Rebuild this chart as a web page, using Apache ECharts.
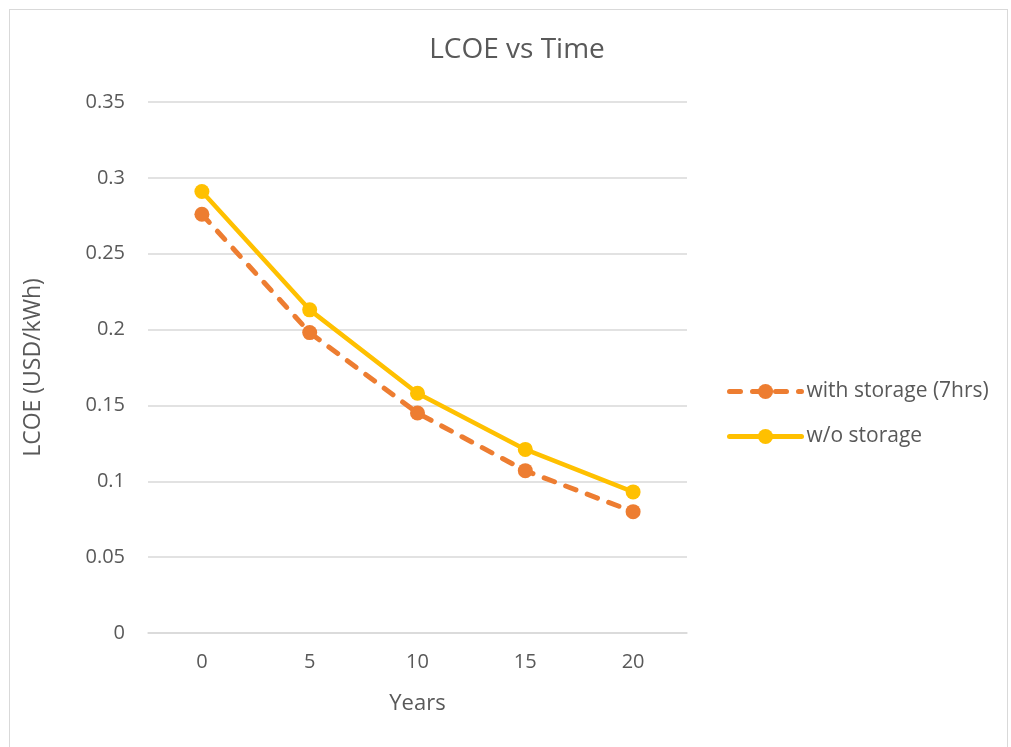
<!DOCTYPE html>
<html>
<head>
<meta charset="utf-8">
<script src="https://cdn.jsdelivr.net/npm/echarts@6/dist/echarts.min.js"></script>
<style>
  html, body { margin: 0; padding: 0; background: #fff; }
  #frame { position: absolute; left: 9px; top: 9px; width: 999px; height: 745px; border: 1px solid #d9d9d9; box-sizing: border-box; }
  #chart { position: absolute; left: 0; top: 0; width: 1011px; height: 747px; }
</style>
</head>
<body>
<div id="frame"></div>
<div id="chart"></div>
<script>
// LCOE by year, two scenarios
const years = ['0', '5', '10', '15', '20'];
const withStorage = [0.276, 0.198, 0.145, 0.107, 0.080];
const withoutStorage = [0.291, 0.213, 0.158, 0.121, 0.093];
const yTicks = [0, 0.05, 0.1, 0.15, 0.2, 0.25, 0.3, 0.35];

const FONT = '"Open Sans", "Noto Sans", sans-serif';
const GREY = '#595959';

const chart = echarts.init(document.getElementById('chart'), null, { renderer: 'canvas' });
chart.setOption({
  animation: false,
  backgroundColor: 'transparent',
  textStyle: { fontFamily: FONT, color: GREY },
  title: {
    text: 'LCOE vs Time',
    left: 512, top: 31,
    textAlign: 'center',
    textStyle: { fontFamily: FONT, fontSize: 28, fontWeight: 'normal', color: GREY }
  },
  legend: {
    orient: 'vertical',
    left: 722, top: 376,
    itemWidth: 72, itemHeight: 19,
    itemGap: 24,
    lineStyle: { width: 5 },
    textStyle: { fontFamily: FONT, fontSize: 21, color: GREY },
    data: ['with storage (7hrs)', 'w/o storage']
  },
  grid: { left: 148, right: 324, top: 102, bottom: 114, containLabel: false },
  xAxis: {
    type: 'category',
    data: years,
    boundaryGap: true,
    name: 'Years',
    nameLocation: 'middle',
    nameGap: 60,
    nameTextStyle: { fontFamily: FONT, fontSize: 22, color: GREY },
    axisLine: { lineStyle: { color: '#d9d9d9', width: 1.5 } },
    axisTick: { show: false },
    axisLabel: { fontFamily: FONT, fontSize: 20, color: GREY, margin: 19 }
  },
  yAxis: {
    type: 'value',
    min: yTicks[0], max: yTicks[yTicks.length - 1], interval: 0.05,
    name: 'LCOE (USD/kWh)',
    nameLocation: 'middle',
    nameGap: 103,
    nameRotate: 90,
    nameTextStyle: { fontFamily: FONT, fontSize: 23, color: GREY },
    axisLine: { show: false },
    axisTick: { show: false },
    splitLine: { lineStyle: { color: '#d9d9d9', width: 1.5 } },
    axisLabel: {
      fontFamily: FONT, fontSize: 20, color: GREY, margin: 23,
      formatter: v => String(Number(v.toFixed(2)))
    }
  },
  series: [
    {
      name: 'with storage (7hrs)',
      type: 'line',
      data: withStorage,
      symbol: 'circle', symbolSize: 15,
      itemStyle: { color: '#ED7D31' },
      lineStyle: { color: '#ED7D31', width: 5, type: [11, 12], cap: 'round' },
      z: 2
    },
    {
      name: 'w/o storage',
      type: 'line',
      data: withoutStorage,
      symbol: 'circle', symbolSize: 15,
      itemStyle: { color: '#FFC000' },
      lineStyle: { color: '#FFC000', width: 4.5, cap: 'round' },
      z: 3
    }
  ]
});
</script>
</body>
</html>
